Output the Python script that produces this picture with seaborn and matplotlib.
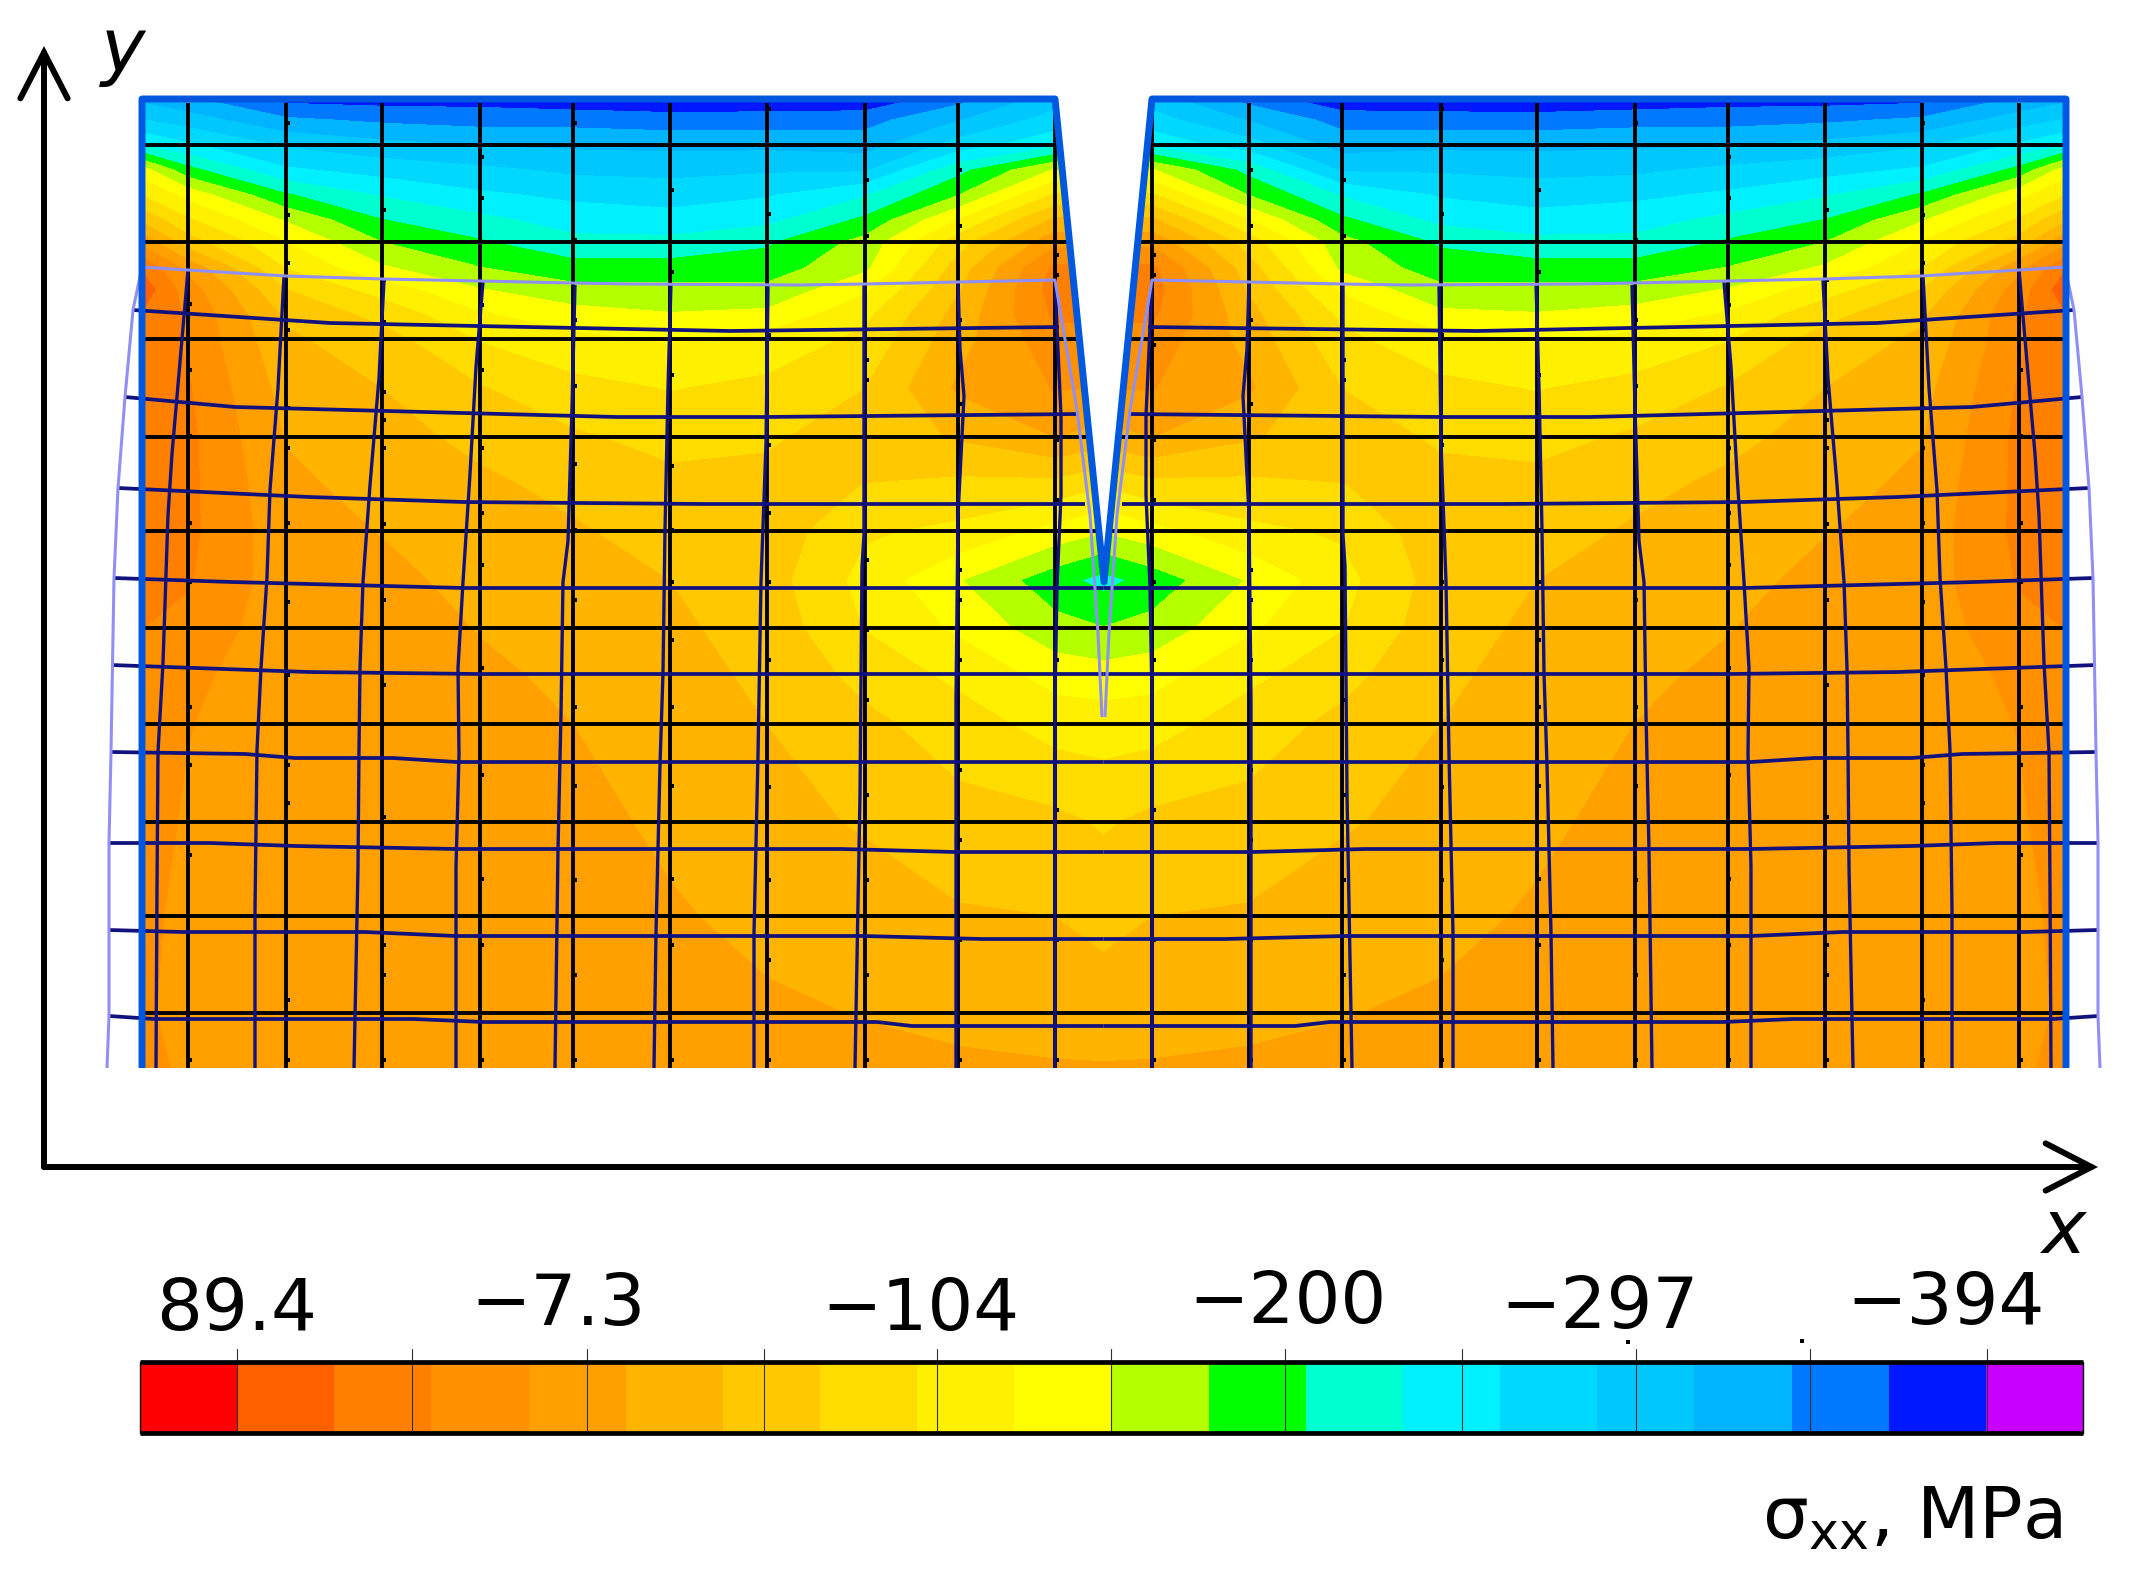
import numpy as np
import pandas as pd
import matplotlib
matplotlib.use("Agg")
import matplotlib.pyplot as plt
from matplotlib.colors import ListedColormap, BoundaryNorm
import seaborn as sns

# ---------- colour scale (sigma_xx, MPa) ----------
band_colors = ["#ff0000", "#ff6000", "#ff8000", "#ff9000", "#ffa000", "#ffb400", "#ffc800",
               "#ffdc00", "#fff000", "#ffff00", "#b4ff00", "#00ff00", "#00ffd0", "#00f0ff",
               "#00d8ff", "#00c8ff", "#00b4ff", "#0078ff", "#0018ff", "#c800ff"]
sigma_top = 116.2
sigma_step = 26.83
tick_values = [89.4, 41.0, -7.3, -56.0, -104.0, -152.0, -200.0, -249.0, -297.0, -345.0, -394.0]
tick_labels = {89.4: "89.4", -7.3: "\u22127.3", -104.0: "\u2212104", -200.0: "\u2212200",
               -297.0: "\u2212297", -394.0: "\u2212394"}

# ---------- stress field ----------
rows_y = [99, 120, 145, 170, 195, 220, 242, 268, 290, 315, 340, 388, 437, 484, 531, 580, 628, 676, 724, 822, 916, 1013, 1068]
cols_x = [142, 188, 286, 382, 480, 573, 670, 767, 865, 958, 1055, 1103.5]
c142 = [-320, -285, -235, -140, -100, -50, 0, 60, 78, 60, 50, 45, 45, 46, 46, 42, 36, 30, 28, 22, 15, 12, 15]
c188 = [-335, -300, -255, -197, -135, -95, -60, 0, 22, 32, 32, 38, 42, 42, 42, 38, 28, 15, 10, 5, 2, 2, 5]
c286 = [-375, -335, -290, -255, -203, -155, -125, -100, -71, -50, -40, -28, -20, -12, -8, -6, -8, -8, -8, -6, -5, -5, -5]
c382 = [-378, -345, -305, -270, -235, -205, -179, -148, -110, -80, -60, -45, -35, -28, -19, -12, -8, -6, -6, -5, -5, -5, -5]
c480 = [-378, -350, -315, -280, -255, -225, -203, -178, -150, -122, -100, -70, -52, -40, -32, -25, -19, -14, -10, -8, -6, -5, -5]
c573 = [-385, -350, -318, -292, -265, -245, -225, -195, -170, -140, -118, -90, -68, -52, -42, -35, -28, -22, -18, -10, -7, -5, -5]
c670 = [-388, -355, -320, -295, -270, -250, -225, -195, -170, -150, -128, -100, -80, -65, -55, -45, -40, -35, -28, -23, -15, -8, -6]
c767 = [-385, -355, -320, -290, -262, -240, -210, -192, -172, -145, -115, -92, -75, -65, -55, -60, -55, -50, -45, -35, -25, -14, -8]
c865 = [-388, -350, -325, -290, -235, -200, -170, -158, -130, -105, -92, -72, -60, -72, -95, -108, -100, -80, -65, -48, -30, -19, -12]
c958 = [-350, -315, -275, -215, -180, -125, -85, -60, -48, -35, -28, -14, -42, -78, -105, -150, -130, -105, -85, -62, -42, -24, -14]
c1055 = [-300, -275, -240, -150, -95, -40, 0, 42, 48, 40, 25, 10, -18, -80, -135, -195, -170, -135, -110, -65, -45, -28, -16]
c1103 = [-300, -275, -240, -150, -95, -40, 0, 42, 48, 40, 25, 10, -30, -95, -150, -215, -178, -140, -112, -75, -52, -33, -16]
half_field = [c142, c188, c286, c382, c480, c573, c670, c767, c865, c958, c1055, c1103]

# ---------- geometry of the specimen and the meshes ----------
mirror = 2207.0
specimen_x = [142, 142, 1055, 1104, 1152, 2066, 2066]
specimen_y = [1068, 99, 99, 582, 99, 99, 1068]
notch_x = [1055, 1104, 1152]
notch_y = [99, 582, 99]
grid_x = [188, 286, 382, 480, 573, 670, 767, 865, 958, 1055, 1152, 1249, 1342, 1441, 1537, 1635, 1728, 1825, 1922, 2019]
grid_y = [145, 242, 339, 437, 531, 628, 724, 822, 916, 1013]

deformed_rows = [
    ([133, 330, 477, 730, 1059], [310, 323, 326, 331, 327]),
    ([125, 235, 463, 617, 765, 1079], [397, 407, 413, 417, 417, 414]),
    ([118, 309, 463, 702, 793, 1085], [488, 497, 502, 504, 504, 504]),
    ([114, 232, 463, 1103.5], [578, 582, 588, 588]),
    ([111, 309, 477, 1103.5], [665, 672, 674, 674]),
    ([111, 245, 295, 393, 456, 1103.5], [752, 754, 758, 758, 762, 762]),
    ([109, 210, 295, 456, 842, 954, 1103.5], [843, 843, 846, 849, 849, 852, 852]),
    ([109, 182, 365, 456, 863, 982, 1103.5], [930, 932, 932, 936, 936, 939, 939]),
    ([109, 154, 414, 484, 877, 912, 1103.5], [1016, 1019, 1019, 1022, 1022, 1026, 1026]),
]
deformed_cols = [
    ([188, 184, 172, 168, 163, 158, 157, 156], [270, 316, 454, 515, 663, 752, 887, 1068]),
    ([284, 278, 270, 267, 261, 257, 255, 255], [276, 388, 490, 577, 668, 750, 910, 1068]),
    ([384, 379, 370, 363, 360, 359, 358, 354], [280, 378, 485, 582, 668, 750, 867, 1068]),
    ([483, 476, 470, 463, 458, 459, 456, 456], [282, 367, 474, 582, 668, 755, 867, 1068]),
    ([575, 572, 568, 563, 561, 558, 555], [285, 408, 541, 582, 714, 850, 1068]),
    ([671, 668, 665, 663, 660, 656, 654], [283, 388, 530, 673, 765, 933, 1068]),
    ([768, 766, 761, 758, 754, 754], [285, 444, 582, 755, 933, 1068]),
    ([864, 864, 862, 860, 855], [284, 535, 566, 795, 1068]),
    ([958, 960, 964, 962, 958, 956, 956], [282, 349, 396, 436, 515, 700, 1068]),
    ([1055, 1058, 1061, 1061, 1057, 1055, 1055], [280, 350, 416, 495, 586, 700, 1068]),
]
outline_x = [107, 109, 109, 109, 111, 114, 118, 125, 133, 142, 188, 286, 383, 480, 573, 630, 800, 865, 958, 1055, 1077, 1090, 1098, 1102]
outline_y = [1068, 1016, 930, 843, 752, 578, 488, 397, 310, 267, 270, 276, 279, 281, 283, 284, 285, 284, 282, 280, 410, 515, 633, 717]

# small node marks seen on the undeformed vertical lines
node_marks = {
    188: [304, 370, 436, 523, 582, 707, 765, 855, 1060],
    286: [123, 215, 263, 330, 408, 448, 523, 602, 675, 765, 803, 1000, 1060],
    382: [210, 280, 322, 392, 420, 448, 524, 600, 685, 817, 945, 975, 1060],
    480: [157, 198, 305, 370, 448, 513, 565, 668, 775, 879, 945, 1060],
    573: [123, 240, 320, 386, 464, 530, 600, 707, 786, 880, 975, 1060],
    670: [190, 272, 375, 466, 530, 582, 640, 707, 786, 879, 945, 1060],
    767: [109, 214, 335, 445, 513, 582, 660, 787, 880, 960, 1060],
    865: [180, 236, 360, 380, 560, 630, 700, 795, 880, 975, 1060],
    958: [170, 226, 320, 404, 570, 600, 660, 770, 840, 940, 1060],
    1055: [255, 275, 345, 440, 500, 582, 660, 810, 940, 1060],
}
speck_x = [1628, 1802]
speck_y = [1342, 1341]


def lines_frame(pairs):
    out = []
    for i, (xs, ys) in enumerate(pairs):
        out.append(pd.DataFrame({"x": xs, "y": ys, "id": i}))
    return pd.concat(out, ignore_index=True)


def with_mirror(pairs):
    return list(pairs) + [([mirror - v for v in xs], ys) for xs, ys in pairs]


def draw_lines(ax, pairs, color, lw, z):
    sns.lineplot(data=lines_frame(pairs), x="x", y="y", units="id", estimator=None, sort=False,
                 color=color, linewidth=lw, legend=False, ax=ax, zorder=z, solid_capstyle="butt")


sns.set_theme(style="white")
plt.rcParams["font.family"] = ["DejaVu Sans"]
plt.rcParams["mathtext.fontset"] = "dejavusans"

W, H = 2135, 1571
fig = plt.figure(figsize=(W / 100, H / 100), dpi=100, facecolor="white")
ax = fig.add_axes([0, 0, 1, 1])

levels = [sigma_top - sigma_step * k for k in range(21)][::-1]
cmap = ListedColormap(band_colors[::-1])
norm = BoundaryNorm(levels, cmap.N)

# field
half = np.array(half_field, dtype=float).T
field = np.hstack([half, half[:, -2::-1]])
xs_all = np.array(cols_x + [mirror - v for v in cols_x[-2::-1]])
ax.contourf(xs_all, np.array(rows_y), field, levels=levels, cmap=cmap, norm=norm, zorder=1)

# undeformed mesh
xmin, xmax = specimen_x[0], specimen_x[-1]
ymin, ymax = min(specimen_y), max(specimen_y)
black = [([v, v], [ymin + 4, ymax]) for v in grid_x] + [([xmin, xmax], [v, v]) for v in grid_y]
draw_lines(ax, black, "#000000", 2.8, 2)

marks = pd.DataFrame([(x + 2, y) for x, ys in node_marks.items() for y in ys] +
                     [(mirror - x + 2, y) for x, ys in node_marks.items() for y in ys], columns=["x", "y"])
sns.scatterplot(data=marks, x="x", y="y", color="black", s=6, marker="s", linewidth=0, legend=False, ax=ax, zorder=2)

# notch is empty
ax.fill(notch_x, notch_y, color="white", zorder=3, lw=0)

# deformed mesh
draw_lines(ax, with_mirror(deformed_rows), "#12127e", 2.7, 4)
draw_lines(ax, with_mirror(deformed_cols), "#12127e", 2.4, 4)
draw_lines(ax, with_mirror([(outline_x, outline_y)]), "#8f8ff5", 2.2, 5)

# specimen outline
draw_lines(ax, [(specimen_x, specimen_y)], "#0058e0", 5.0, 6)

# axes arrows
arrow = dict(arrowstyle="->,head_length=33,head_width=17", mutation_scale=1, lw=4.3, color="black",
             shrinkA=0, shrinkB=0, joinstyle="miter", capstyle="round")
ax.annotate("", xy=(2098, 1167), xytext=(44, 1167), arrowprops=arrow, zorder=7)
ax.annotate("", xy=(44, 46), xytext=(44, 1167), arrowprops=arrow, zorder=7)
ax.text(123, 72, "y", fontsize=54, style="italic", ha="center", va="baseline", color="black")
ax.text(2064, 1253, "x", fontsize=54, style="italic", ha="center", va="baseline", color="black")

# colour bar labels and caption
label_pos = {89.4: (237, 1330), -7.3: (558, 1325), -104.0: (920, 1330), -200.0: (1287, 1323),
             -297.0: (1600, 1328), -394.0: (1946, 1324)}
for v, t in tick_labels.items():
    px, py = label_pos[v]
    ax.text(px, py, t, fontsize=52, ha="center", va="baseline", color="black")
ax.text(2062, 1538, "\u03c3$_{\\mathrm{xx}}$, MPa", fontsize=52, ha="right", va="baseline", color="black")
sns.scatterplot(x=speck_x, y=speck_y, color="black", s=8, marker="s", linewidth=0, legend=False, ax=ax)

ax.set_xlim(0, W)
ax.set_ylim(H, 0)
ax.set_axis_off()

# colour bar
cax = fig.add_axes([140 / W, 1 - 1433 / H, (2083 - 140) / W, (1433 - 1362) / H])
centres = np.array([[sigma_top - sigma_step * (k + 0.5) for k in range(20)]])
sns.heatmap(centres, cmap=cmap, norm=norm, cbar=False, xticklabels=False, yticklabels=False, ax=cax)
for v in tick_values:
    pos = (sigma_top - v) / sigma_step
    cax.plot([pos, pos], [-0.19, 1.0], color="#303030", lw=0.8, clip_on=False, zorder=5)
cax.plot([0, 20], [0, 0], color="black", lw=3.4, clip_on=False, zorder=6, solid_capstyle="butt")
cax.plot([0, 20], [1, 1], color="black", lw=3.4, clip_on=False, zorder=6, solid_capstyle="butt")
cax.plot([0, 0], [0, 1], color="black", lw=1.0, clip_on=False, zorder=6)
cax.plot([20, 20], [0, 1], color="black", lw=1.0, clip_on=False, zorder=6)
cax.set_xlabel("")
cax.set_ylabel("")

fig.savefig("out.png", dpi=100, facecolor="white")
